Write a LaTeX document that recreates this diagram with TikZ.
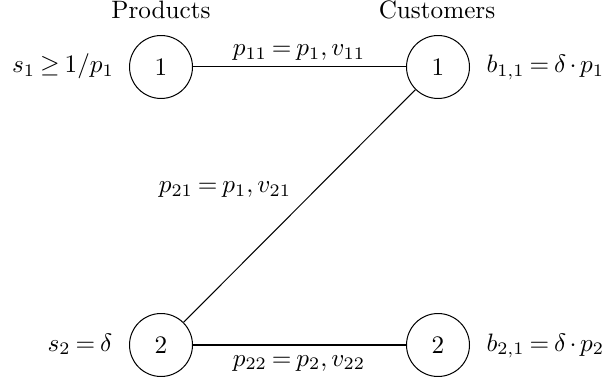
\documentclass[tikz,border=0pt]{standalone}
\usepackage{amsmath}
\thickmuskip=3.5mu plus 2mu
\medmuskip=2.5mu plus 1mu minus 1mu
\begin{document}
\begin{tikzpicture}[x=0.397pt,y=-0.397pt,
  vertex/.style={circle,draw,minimum size=25pt,inner sep=0pt},
  txt/.style={anchor=base,inner sep=0pt},
  txtw/.style={anchor=base west,inner sep=0pt}]
\useasboundingbox (0,0) rectangle (602,381);
\node[vertex] (p1) at (161,67) {$1$};
\node[vertex] (c1) at (438,67) {$1$};
\node[vertex] (p2) at (161,345) {$2$};
\node[vertex] (c2) at (438,345) {$2$};
\node[txt] (hp) at (161,19) {Products};
\node[txt] (hc) at (437,19) {Customers};
\node[txt] (s1) at (63,73) {$s_1 \geq 1/p_1$};
\node[txtw] (b11) at (486,73) {$b_{1,1} = \delta \cdot p_1$};
\node[txt] (s2) at (80,351) {$s_2 = \delta$};
\node[txtw] (b21) at (486,351) {$b_{2,1} = \delta \cdot p_2$};
\draw (p1) -- (c1);
\draw (p2) -- (c1);
\draw (p2) -- (c2);
\node[txt] (l11) at (299,56) {$p_{11} = p_1, v_{11}$};
\node[txt] (l21) at (225,193) {$p_{21} = p_1, v_{21}$};
\node[txt] (l22) at (299,366) {$p_{22} = p_2, v_{22}$};
\end{tikzpicture}
\end{document}
